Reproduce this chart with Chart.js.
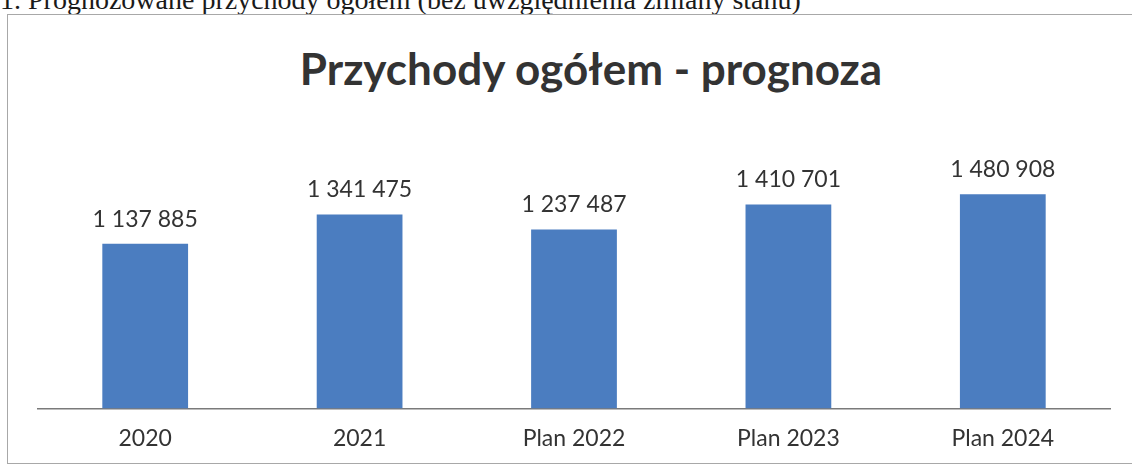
<!DOCTYPE html>
<html lang="pl">
<head>
<meta charset="utf-8">
<title>Przychody ogółem - prognoza</title>
<script src="https://cdn.jsdelivr.net/npm/chart.js@4.4.1/dist/chart.umd.min.js"></script>
<style>
    html, body {
        margin: 0;
        padding: 0;
        background: #ffffff;
        overflow: hidden;
    }
    #page {
        position: relative;
        width: 1132px;
        height: 468px;
        overflow: hidden;
    }
    /* heading of the document, cut off by the scan */
    #docHeading {
        position: absolute;
        left: 0;
        top: -14px;
        font-family: "Liberation Serif", "DejaVu Serif", serif;
        font-size: 28px;
        line-height: 28px;
        color: #1a1a1a;
        white-space: nowrap;
    }
    #frame {
        position: absolute;
        left: 7px;
        top: 14px;
        width: 1140px;
        height: 450px;
        border: 1px solid #a8a8a8;
        box-sizing: border-box;
    }
    #chartTitle {
        position: absolute;
        left: 0;
        top: 42px;
        width: 1182px;
        text-align: center;
        font-family: Lato, sans-serif;
        font-weight: bold;
        font-size: 44px;
        line-height: 52px;
        color: #333333;
        white-space: nowrap;
    }
    #chartBox {
        position: absolute;
        left: 0;
        top: 0;
        width: 1132px;
        height: 468px;
    }
</style>
</head>
<body>
<div id="page">
    <div id="docHeading">1. Prognozowane przychody ogółem (bez uwzględnienia zmiany stanu)</div>
    <div id="frame"></div>
    <div id="chartTitle"></div>
    <div id="chartBox"><canvas id="revenueChart"></canvas></div>
</div>

<script>
// Chart data
const categories = ['2020', '2021', 'Plan 2022', 'Plan 2023', 'Plan 2024'];
const revenue = [1137885, 1341475, 1237487, 1410701, 1480908];
const chartTitle = 'Przychody ogółem - prognoza';

const textColor = '#333333';
const barColor = '#4b7dc0';

document.getElementById('chartTitle').textContent = chartTitle;

// "1 137 885" style grouping
function formatValue(v) {
    return String(v).replace(/\B(?=(\d{3})+(?!\d))/g, ' ');
}

// Simple value labels above the bars
const barLabels = {
    id: 'barLabels',
    afterDatasetsDraw(chart) {
        const ctx = chart.ctx;
        const meta = chart.getDatasetMeta(0);
        ctx.save();
        ctx.font = '23px Lato';
        ctx.fillStyle = textColor;
        ctx.textAlign = 'center';
        ctx.textBaseline = 'alphabetic';
        meta.data.forEach((bar, i) => {
            const value = chart.data.datasets[0].data[i];
            ctx.fillText(formatValue(value), bar.x, bar.y - 17);
        });
        ctx.restore();
    }
};

const ctx = document.getElementById('revenueChart');

new Chart(ctx, {
    type: 'bar',
    data: {
        labels: categories,
        datasets: [{
            label: 'Przychody',
            data: revenue,
            backgroundColor: barColor,
            borderWidth: 0,
            barPercentage: 0.4,
            categoryPercentage: 1.0
        }]
    },
    options: {
        responsive: true,
        maintainAspectRatio: false,
        animation: false,
        layout: {
            // room above the plot is kept for the title and the value labels
            padding: { left: 38, right: 22, top: 177, bottom: 0 }
        },
        plugins: {
            legend: { display: false },
            tooltip: { enabled: false },
            title: { display: false }
        },
        scales: {
            x: {
                grid: { display: false, drawTicks: false },
                border: { display: true, color: '#7a7a7a', width: 1.5 },
                ticks: {
                    color: textColor,
                    font: { family: 'Lato', size: 23 },
                    padding: 16
                }
            },
            y: {
                display: false,
                min: 0,
                max: 1600000
            }
        }
    },
    plugins: [barLabels]
});
</script>
</body>
</html>
